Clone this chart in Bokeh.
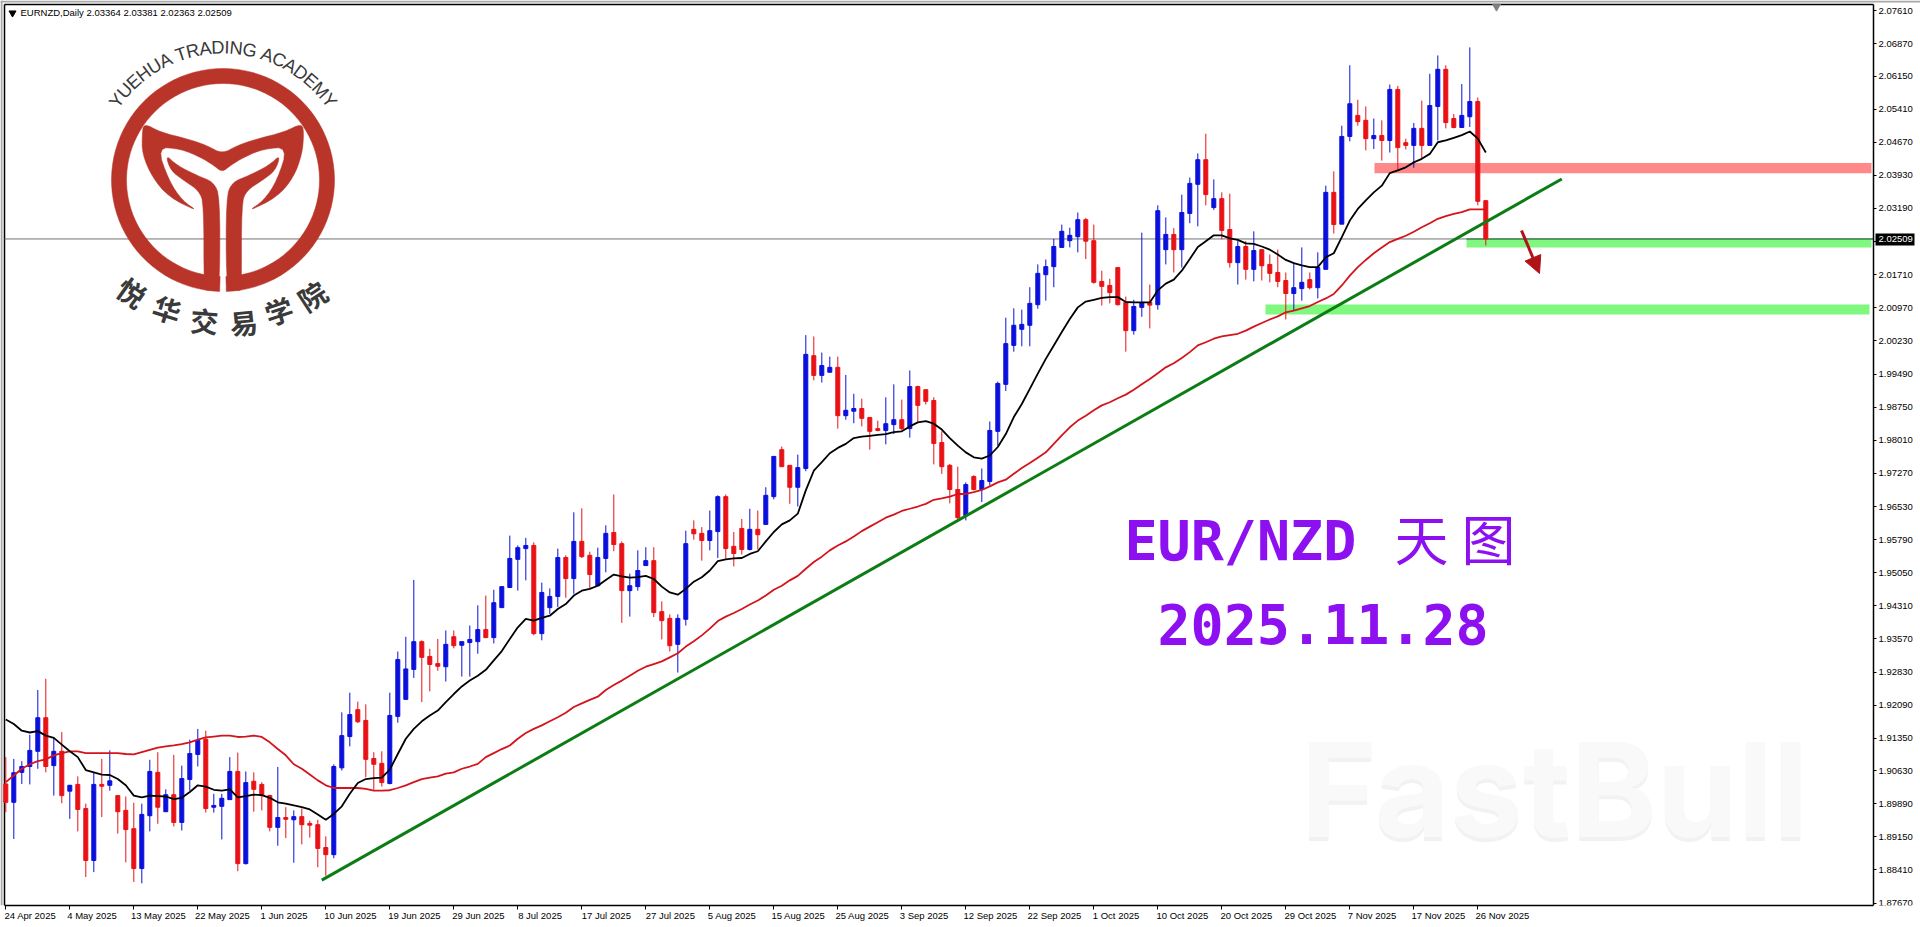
import math
import numpy as np
from bokeh.core.properties import value
from bokeh.embed import file_html
from bokeh.models import AllLabels, Arrow, ColumnDataSource, FixedTicker, NormalHead, Range1d
from bokeh.plotting import figure
from bokeh.resources import INLINE

open_ = [
    1.9033,1.8992,1.9059,1.9072,1.9106,1.9181,1.9074,1.9106,1.9017,1.9032,
    1.8978,1.8862,1.9032,1.9030,1.9007,1.8974,1.8933,1.8844,1.8962,1.9059,
    1.8971,1.9009,1.8947,1.9043,1.9099,1.9133,1.8981,1.8983,1.8998,1.9061,
    1.8855,1.9039,1.9032,1.9007,1.8936,1.8958,1.8953,1.8960,1.8945,1.8942,
    1.8891,1.8875,1.9069,1.9139,1.9199,1.9175,1.9090,1.9079,1.9034,1.9184,
    1.9222,1.9289,1.9351,1.9318,1.9302,1.9295,1.9362,1.9343,1.9349,1.9351,
    1.9378,1.9360,1.9427,1.9472,1.9535,1.9559,1.9566,1.9369,1.9427,1.9452,
    1.9539,1.9492,1.9575,1.9544,1.9476,1.9537,1.9595,1.9570,1.9465,1.9474,
    1.9521,1.9532,1.9418,1.9403,1.9345,1.9401,1.9602,1.9593,1.9577,1.9597,
    1.9675,1.9564,1.9604,1.9557,1.9602,1.9613,1.9675,1.9780,1.9745,1.9696,
    1.9738,1.9990,1.9946,1.9953,1.9964,1.9856,1.9866,1.9872,1.9852,1.9827,
    1.9823,1.9836,1.9847,1.9827,1.9921,1.9914,1.9890,1.9796,1.9745,1.9691,
    1.9633,1.9720,1.9691,1.9709,1.9821,1.9926,2.0013,2.0049,2.0058,2.0104,
    2.0171,2.0189,2.0232,2.0247,2.0256,2.0294,2.0247,2.0156,2.0147,2.0187,
    2.0109,2.0046,2.0098,2.0109,2.0104,2.0227,2.0261,2.0227,2.0308,2.0373,
    2.0428,2.0321,2.0341,2.0272,2.0198,2.0234,2.0183,2.0227,2.0194,2.0176,
    2.0158,2.0129,2.0140,2.0160,2.0142,2.0183,2.0355,2.0284,2.0480,2.0527,
    2.0516,2.0475,2.0482,2.0471,2.0585,2.0466,2.0460,2.0498,2.0460,2.0547,
    2.0630,2.0520,2.0500,2.0524,2.0558,2.03364,
]
high = [
    1.9093,1.9089,1.9084,1.9143,1.9243,1.9268,1.9138,1.9149,1.9031,1.9050,
    1.8989,1.9058,1.9089,1.9108,1.9007,1.9005,1.8991,1.8989,1.9087,1.9104,
    1.9021,1.9098,1.9074,1.9132,1.9156,1.9152,1.9011,1.9011,1.9093,1.9103,
    1.9061,1.9059,1.9037,1.9009,1.9071,1.8981,1.8974,1.8978,1.8951,1.8953,
    1.8916,1.9077,1.9193,1.9237,1.9217,1.9211,1.9104,1.9106,1.9237,1.9329,
    1.9362,1.9489,1.9354,1.9335,1.9357,1.9376,1.9376,1.9351,1.9387,1.9432,
    1.9454,1.9467,1.9474,1.9588,1.9566,1.9583,1.9573,1.9483,1.9470,1.9559,
    1.9544,1.9640,1.9649,1.9552,1.9561,1.9611,1.9680,1.9575,1.9503,1.9555,
    1.9562,1.9562,1.9441,1.9412,1.9412,1.9599,1.9622,1.9607,1.9644,1.9678,
    1.9680,1.9596,1.9625,1.9648,1.9644,1.9696,1.9765,1.9787,1.9745,1.9769,
    2.0036,2.0033,1.9997,1.9988,1.9988,1.9947,1.9905,1.9894,1.9852,1.9845,
    1.9897,1.9926,1.9892,1.9957,1.9923,1.9914,1.9897,1.9821,1.9748,1.9742,
    1.9707,1.9723,1.9738,1.9843,1.9932,2.0075,2.0096,2.0093,2.0143,2.0194,
    2.0205,2.0251,2.0283,2.0276,2.0310,2.0298,2.0283,2.0180,2.0162,2.0187,
    2.0122,2.0115,2.0265,2.0149,2.0326,2.0299,2.0275,2.0350,2.0388,2.0442,
    2.0486,2.0384,2.0355,2.0352,2.0247,2.0246,2.0268,2.0228,2.0216,2.0227,
    2.0176,2.0198,2.0232,2.0176,2.0221,2.0370,2.0402,2.0504,2.0639,2.0562,
    2.0547,2.0520,2.0516,2.0596,2.0593,2.0475,2.0510,2.0560,2.0620,2.0661,
    2.0639,2.0530,2.0597,2.0679,2.0567,2.03381,
]
low = [
    1.8970,1.8910,1.9033,1.9032,1.9067,1.9059,1.9007,1.8990,1.8955,1.8927,
    1.8825,1.8836,1.8959,1.9018,1.8922,1.8858,1.8814,1.8811,1.8927,1.8944,
    1.8971,1.8938,1.8929,1.9018,1.9072,1.8969,1.8969,1.8909,1.8998,1.8838,
    1.8853,1.8971,1.8974,1.8927,1.8895,1.8912,1.8857,1.8898,1.8913,1.8847,
    1.8828,1.8867,1.9063,1.9117,1.9169,1.9048,1.9020,1.9027,1.9032,1.9170,
    1.9222,1.9270,1.9216,1.9240,1.9286,1.9262,1.9336,1.9273,1.9273,1.9324,
    1.9359,1.9347,1.9427,1.9472,1.9465,1.9488,1.9365,1.9354,1.9413,1.9428,
    1.9449,1.9458,1.9538,1.9471,1.9476,1.9506,1.9553,1.9393,1.9407,1.9465,
    1.9521,1.9406,1.9356,1.9329,1.9282,1.9387,1.9579,1.9532,1.9555,1.9538,
    1.9536,1.9519,1.9546,1.9555,1.9557,1.9613,1.9669,1.9742,1.9659,1.9653,
    1.9732,1.9935,1.9930,1.9953,1.9827,1.9847,1.9839,1.9832,1.9780,1.9821,
    1.9792,1.9815,1.9823,1.9807,1.9841,1.9881,1.9747,1.9726,1.9660,1.9625,
    1.9622,1.9689,1.9663,1.9700,1.9789,1.9911,1.9999,2.0011,2.0011,2.0095,
    2.0113,2.0143,2.0232,2.0232,2.0221,2.0206,2.0151,2.0102,2.0107,2.0102,
    1.9999,2.0037,2.0077,2.0051,2.0093,2.0194,2.0176,2.0187,2.0286,2.0279,
    2.0326,2.0316,2.0250,2.0187,2.0149,2.0160,2.0156,2.0158,2.0154,2.0143,
    2.0071,2.0091,2.0113,2.0138,2.0118,2.0183,2.0263,2.0284,2.0469,2.0504,
    2.0449,2.0452,2.0426,2.0444,2.0404,2.0451,2.0410,2.0431,2.0460,2.0471,
    2.0498,2.0498,2.0500,2.0501,2.0326,2.02363,
]
close = [
    1.8992,1.9058,1.9072,1.9108,1.9181,1.9072,1.9106,1.9007,1.9030,1.8976,
    1.8862,1.9032,1.9028,1.9040,1.8971,1.8931,1.8844,1.8965,1.9061,1.8981,
    1.9009,1.8947,1.9045,1.9101,1.9130,1.8978,1.8985,1.9001,1.9061,1.8855,
    1.9036,1.9021,1.9007,1.8936,1.8958,1.8954,1.8960,1.8942,1.8941,1.8889,
    1.8875,1.9072,1.9141,1.9188,1.9172,1.9088,1.9077,1.9036,1.9186,1.9311,
    1.9290,1.9351,1.9316,1.9300,1.9296,1.9345,1.9342,1.9351,1.9356,1.9378,
    1.9360,1.9438,1.9474,1.9537,1.9561,1.9566,1.9369,1.9461,1.9452,1.9539,
    1.9492,1.9575,1.9541,1.9501,1.9539,1.9593,1.9568,1.9465,1.9476,1.9510,
    1.9532,1.9416,1.9398,1.9342,1.9403,1.9570,1.9592,1.9577,1.9599,1.9675,
    1.9559,1.9548,1.9557,1.9602,1.9590,1.9678,1.9765,1.9742,1.9696,1.9740,
    1.9993,1.9946,1.9968,1.9964,1.9856,1.9868,1.9872,1.9850,1.9821,1.9823,
    1.9838,1.9847,1.9827,1.9921,1.9879,1.9888,1.9794,1.9742,1.9691,1.9628,
    1.9702,1.9691,1.9711,1.9823,1.9928,2.0017,2.0058,2.0060,2.0107,2.0174,
    2.0189,2.0234,2.0268,2.0259,2.0294,2.0246,2.0154,2.0145,2.0131,2.0104,
    2.0046,2.0100,2.0109,2.0103,2.0314,2.0261,2.0227,2.0310,2.0375,2.0428,
    2.0350,2.0341,2.0270,2.0198,2.0234,2.0183,2.0225,2.0191,2.0174,2.0156,
    2.0129,2.0142,2.0154,2.0142,2.0187,2.0355,2.0283,2.0480,2.0553,2.0513,
    2.0475,2.0482,2.0471,2.0585,2.0455,2.0460,2.0498,2.0460,2.0549,2.0630,
    2.0511,2.0500,2.0527,2.0558,2.0335,2.02509,
]
ma_fast = [
    1.9177,1.9167,1.9152,1.9148,1.9151,1.9141,1.9136,1.9121,1.9106,1.9093,
    1.9064,1.9059,1.9054,1.9053,1.9044,1.9030,1.9007,1.9003,1.9007,1.9006,
    1.9005,1.8999,1.9002,1.9015,1.9030,1.9027,1.9020,1.9018,1.9021,1.9003,
    1.9006,1.9009,1.9008,1.9002,1.8992,1.8989,1.8985,1.8981,1.8976,1.8965,
    1.8953,1.8966,1.8983,1.9011,1.9035,1.9044,1.9046,1.9047,1.9065,1.9100,
    1.9134,1.9156,1.9173,1.9186,1.9197,1.9216,1.9234,1.9251,1.9264,1.9275,
    1.9288,1.9309,1.9330,1.9357,1.9383,1.9402,1.9398,1.9404,1.9409,1.9424,
    1.9435,1.9454,1.9465,1.9469,1.9476,1.9489,1.9501,1.9497,1.9494,1.9495,
    1.9498,1.9491,1.9474,1.9461,1.9456,1.9469,1.9485,1.9495,1.9510,1.9531,
    1.9535,1.9537,1.9538,1.9547,1.9553,1.9575,1.9596,1.9613,1.9622,1.9637,
    1.9689,1.9733,1.9752,1.9772,1.9784,1.9793,1.9806,1.9809,1.9811,1.9813,
    1.9815,1.9819,1.9821,1.9832,1.9841,1.9844,1.9838,1.9825,1.9806,1.9789,
    1.9774,1.9763,1.9760,1.9767,1.9786,1.9815,1.9853,1.9882,1.9916,1.9950,
    1.9983,2.0013,2.0043,2.0072,2.0098,2.0111,2.0115,2.0119,2.0121,2.0121,
    2.0110,2.0109,2.0109,2.0109,2.0136,2.0151,2.0160,2.0180,2.0206,2.0233,
    2.0246,2.0259,2.0259,2.0252,2.0249,2.0241,2.0240,2.0234,2.0227,2.0216,
    2.0204,2.0197,2.0192,2.0188,2.0188,2.0210,2.0219,2.0255,2.0292,2.0318,
    2.0337,2.0355,2.0370,2.0398,2.0404,2.0411,2.0422,2.0430,2.0441,2.0467,
    2.0471,2.0477,2.0483,2.0491,2.0475,2.0444,
]
ma_slow = [
    1.9037,1.9052,1.9067,1.9077,1.9084,1.9088,1.9097,1.9102,1.9106,1.9106,
    1.9102,1.9102,1.9102,1.9102,1.9102,1.9100,1.9099,1.9104,1.9109,1.9114,
    1.9117,1.9119,1.9122,1.9126,1.9132,1.9137,1.9139,1.9141,1.9141,1.9138,
    1.9139,1.9141,1.9138,1.9126,1.9111,1.9097,1.9077,1.9067,1.9054,1.9041,
    1.9030,1.9024,1.9024,1.9024,1.9024,1.9022,1.9018,1.9018,1.9019,1.9024,
    1.9030,1.9037,1.9044,1.9047,1.9050,1.9056,1.9059,1.9067,1.9072,1.9078,
    1.9093,1.9102,1.9111,1.9119,1.9134,1.9147,1.9156,1.9164,1.9173,1.9182,
    1.9192,1.9205,1.9213,1.9221,1.9228,1.9243,1.9254,1.9264,1.9275,1.9286,
    1.9295,1.9301,1.9307,1.9316,1.9325,1.9340,1.9352,1.9365,1.9380,1.9397,
    1.9407,1.9415,1.9424,1.9434,1.9443,1.9454,1.9467,1.9476,1.9488,1.9498,
    1.9514,1.9529,1.9541,1.9555,1.9566,1.9575,1.9586,1.9598,1.9608,1.9618,
    1.9628,1.9635,1.9643,1.9648,1.9653,1.9659,1.9668,1.9671,1.9675,1.9681,
    1.9681,1.9685,1.9690,1.9698,1.9707,1.9713,1.9726,1.9739,1.9750,1.9762,
    1.9774,1.9793,1.9812,1.9830,1.9845,1.9856,1.9868,1.9879,1.9886,1.9895,
    1.9903,1.9914,1.9926,1.9938,1.9951,1.9964,1.9973,1.9985,1.9998,2.0013,
    2.0020,2.0028,2.0033,2.0036,2.0039,2.0046,2.0055,2.0063,2.0071,2.0078,
    2.0087,2.0091,2.0096,2.0101,2.0110,2.0118,2.0128,2.0147,2.0169,2.0188,
    2.0204,2.0219,2.0232,2.0244,2.0251,2.0258,2.0267,2.0277,2.0286,2.0296,
    2.0302,2.0307,2.0311,2.0317,2.0317,2.0317,
]

date_labels = ["24 Apr 2025", "4 May 2025", "13 May 2025", "22 May 2025", "1 Jun 2025", "10 Jun 2025",
               "19 Jun 2025", "29 Jun 2025", "8 Jul 2025", "17 Jul 2025", "27 Jul 2025", "5 Aug 2025",
               "15 Aug 2025", "25 Aug 2025", "3 Sep 2025", "12 Sep 2025", "22 Sep 2025", "1 Oct 2025",
               "10 Oct 2025", "20 Oct 2025", "29 Oct 2025", "7 Nov 2025", "17 Nov 2025", "26 Nov 2025"]
date_ticks = list(range(0, 192, 8))
price_ticks = [2.07610, 2.06870, 2.06150, 2.05410, 2.04670, 2.03930, 2.03190, 2.02450, 2.01710, 2.00970,
               2.00230, 1.99490, 1.98750, 1.98010, 1.97270, 1.96530, 1.95790, 1.95050, 1.94310, 1.93570,
               1.92830, 1.92090, 1.91350, 1.90630, 1.89890, 1.89150, 1.88410, 1.87670]
last_price = 2.02509
resistance_zone = (2.04209, 2.03978)
support_zone_1 = (2.02509, 2.02320)
support_zone_2 = (2.01043, 2.00820)
trend_x = [39.5, 194.5]
trend_y = [1.8818, 2.0385]
header = "EURNZD,Daily  2.03364 2.03381 2.02363 2.02509"

# picture pixel <-> data, used for the decorations that sit on the picture rather than on the prices
BAR_PX = 8.0
PRICE_PX = 4475.0


def fx(px):
    return (px - 5.3) / BAR_PX


def fy(py):
    return 2.0687 - (py - 43.3) / PRICE_PX


# the frame fills the canvas so that the price tag can be drawn; the chart box itself ends at these
BOX_LEFT, BOX_RIGHT = fx(4), fx(1873)
BOX_TOP, BOX_BOTTOM = fy(4), fy(905)

p = figure(width=1920, height=927, output_backend="svg", toolbar_location=None,
           x_range=Range1d(fx(0), fx(1920)), y_range=Range1d(BOX_BOTTOM, fy(0)),
           y_axis_location="right", min_border_left=0, min_border_top=0,
           min_border_right=0, min_border_bottom=22,
           background_fill_color="white", border_fill_color="white")
p.grid.visible = False
p.outline_line_color = None

label_font = "Liberation Sans"

# date axis: MT4 starts each label at its tick, so the label sits on a shifted major tick
shifted = [round(t + (len(s) * 4.65 / 2 - 1) / BAR_PX, 3) for t, s in zip(date_ticks, date_labels)]
xax = p.xaxis[0]
xax.bounds = (BOX_LEFT, BOX_RIGHT)
xax.ticker = FixedTicker(ticks=shifted, minor_ticks=date_ticks)
xax.major_label_overrides = dict(zip(shifted, date_labels))
xax.major_label_policy = AllLabels()
xax.major_tick_out = 0
xax.major_tick_in = 0
xax.minor_tick_out = 4
xax.minor_tick_in = 0
xax.minor_tick_line_color = "black"
xax.major_label_standoff = 0
xax.major_label_text_font = label_font
xax.major_label_text_font_size = "9.5px"
xax.major_label_text_color = "black"
xax.axis_line_color = "black"
xax.axis_line_width = 1.5

yax = p.yaxis[0]
yax.fixed_location = BOX_RIGHT
yax.bounds = (BOX_BOTTOM, BOX_TOP)
yax.ticker = FixedTicker(ticks=price_ticks)
yax.major_label_overrides = {t: f"{t:.5f}" for t in price_ticks}
yax.major_label_policy = AllLabels()
yax.major_tick_out = 3
yax.major_tick_in = 0
yax.minor_tick_out = 0
yax.minor_tick_in = 0
yax.major_label_standoff = 2
yax.major_label_text_font = label_font
yax.major_label_text_font_size = "9.5px"
yax.major_label_text_color = "black"
yax.axis_line_color = "black"
yax.axis_line_width = 1.5

# window edge and the rest of the chart box
p.quad(left=[fx(0), fx(0)], right=[fx(2), fx(1920)], top=[fy(0), fy(0)], bottom=[BOX_BOTTOM, fy(2)],
       fill_color="#a8a8a8", line_color=None)
p.segment(x0=[BOX_LEFT, BOX_LEFT], x1=[BOX_RIGHT, BOX_LEFT], y0=[BOX_TOP, BOX_TOP], y1=[BOX_TOP, BOX_BOTTOM],
          line_color="black", line_width=1.5)

# zones and current price line
p.quad(left=[fx(1374)], right=[fx(1871)], top=[resistance_zone[0]], bottom=[resistance_zone[1]],
       fill_color="#ff8888", line_color=None)
p.quad(left=[fx(1466)], right=[fx(1871)], top=[support_zone_1[0]], bottom=[support_zone_1[1]],
       fill_color="#80f880", line_color=None)
p.quad(left=[fx(1265)], right=[fx(1869)], top=[support_zone_2[0]], bottom=[support_zone_2[1]],
       fill_color="#80f880", line_color=None)
p.segment(x0=[BOX_LEFT], x1=[BOX_RIGHT], y0=[last_price], y1=[last_price], line_color="#707070", line_width=1)
p.segment(x0=[fx(1466)], x1=[BOX_RIGHT], y0=[last_price], y1=[last_price], line_color="#1c7c30", line_width=1)

# watermark
for dy, col in ((4, "#f2f2f2"), (0, "#f9f9f9")):
    p.text(x=[fx(1300)], y=[fy(789 + dy)], text=["FastBull"], text_font=value("Inter"), text_font_style="bold",
           text_font_size="130px", text_color=col, text_baseline="middle", text_align="left")

# candles
x = np.arange(len(close))
o = np.array(open_)
c = np.array(close)
up = c >= o
colors = np.where(up, "#0a10dc", "#e81216")
src = ColumnDataSource(dict(x=x, high=high, low=low, top=np.maximum(o, c), bottom=np.minimum(o, c), color=colors))
p.segment(x0="x", x1="x", y0="low", y1="high", line_color="color", line_width=1, source=src)
p.vbar(x="x", width=0.5, top="top", bottom="bottom", fill_color="color", line_color="color", line_width=1, source=src)

# moving averages, trend line, arrow
p.line(x, ma_slow, line_color="#d4141c", line_width=1.8)
p.line(x, ma_fast, line_color="black", line_width=1.8)
p.line(trend_x, trend_y, line_color="#0c7c14", line_width=3)
p.add_layout(Arrow(end=NormalHead(size=17, fill_color="#b01418", line_color="#b01418"),
                   x_start=fx(1521), y_start=fy(230), x_end=fx(1539), y_end=fy(273),
                   line_color="#b01418", line_width=3))

# purple caption
p.text(x=[fx(1124)], y=[fy(540)], text=["EUR/NZD"], text_font=value("DejaVu Sans Mono"), text_font_style="bold",
       text_font_size="55px", text_color="#8c10f0", text_baseline="middle", text_align="left")
p.text(x=[fx(1394), fx(1461)], y=[fy(537), fy(537)], text=["天", "图"], text_font=value("Noto Sans CJK SC"),
       text_font_size="54px", text_color="#8c10f0", text_baseline="middle", text_align="left")
p.text(x=[fx(1157)], y=[fy(623)], text=["2025.11.28"], text_font=value("DejaVu Sans Mono"), text_font_style="bold",
       text_font_size="55px", text_color="#8c10f0", text_baseline="middle", text_align="left")

# header
p.scatter(x=[fx(12)], y=[fy(12.5)], marker="inverted_triangle", size=7, fill_color="black", line_color="black")
p.text(x=[fx(20)], y=[fy(12)], text=[header], text_font=value(label_font), text_font_size="9.5px",
       text_color="black", text_baseline="middle", text_align="left")
# chart shift marker
p.scatter(x=[fx(1496)], y=[fy(6)], marker="inverted_triangle", size=8, fill_color="#808080", line_color="#808080")

# price tag over the axis labels
p.quad(left=[fx(1875)], right=[fx(1914)], top=[fy(233)], bottom=[fy(245)], fill_color="black", line_color=None,
       level="overlay")
p.text(x=[fx(1878)], y=[last_price], text=[f"{last_price:.5f}"], text_font=value(label_font),
       text_font_size="9.5px", text_color="white", text_baseline="middle", text_align="left", level="overlay")

# logo
LOGO_RED = "#b9352a"
LOGO_CX, LOGO_CY = 222.5, 179.5


def zx(v):
    return fx(v / 3)


def zy(v):
    return fy(v / 3)


def smooth(xs, ys, rounds=2):
    for _ in range(rounds):
        nx, ny = [], []
        for i in range(len(xs)):
            j = (i + 1) % len(xs)
            nx += [0.75 * xs[i] + 0.25 * xs[j], 0.25 * xs[i] + 0.75 * xs[j]]
            ny += [0.75 * ys[i] + 0.25 * ys[j], 0.25 * ys[i] + 0.75 * ys[j]]
        xs, ys = nx, ny
    return xs, ys


p.annular_wedge(x=[fx(LOGO_CX)], y=[fy(LOGO_CY)], inner_radius=96.5, outer_radius=111.5,
                inner_radius_units="screen", outer_radius_units="screen",
                start_angle=-math.pi / 2 + 0.03, end_angle=-math.pi / 2 - 0.03,
                fill_color=LOGO_RED, line_color=LOGO_RED, line_width=0.5)

wing_x = [430, 480, 560, 620, 665, 710, 770, 850, 905, 910, 905, 880, 830, 740, 790, 830, 862, 790, 730, 690, 665,
          640, 600, 540, 470, 505, 545, 595, 505, 455, 425, 425]
wing_y = [368, 395, 415, 435, 460, 435, 415, 395, 368, 400, 460, 530, 590, 634, 600, 540, 440, 445, 470, 495, 515,
          495, 470, 445, 440, 540, 600, 634, 590, 530, 460, 400]
stem_l_x = [495, 530, 590, 640, 658, 658, 650, 620, 610, 610, 595, 550, 510]
stem_l_y = [462, 495, 525, 545, 590, 830, 860, 872, 860, 610, 570, 540, 510]
stem_r_x = [840, 805, 745, 695, 677, 677, 690, 720, 723, 723, 738, 785, 825]
stem_r_y = [462, 495, 525, 545, 590, 840, 865, 872, 860, 610, 570, 540, 510]
for xs, ys in ((wing_x, wing_y), (stem_l_x, stem_l_y), (stem_r_x, stem_r_y)):
    sx, sy = smooth(xs, ys)
    p.patch([zx(v) for v in sx], [zy(v) for v in sy], fill_color=LOGO_RED, line_color=LOGO_RED, line_width=0.5)

arc_text = "YUEHUA TRADING ACADEMY"
arc_w = {"Y": .667, "U": .722, "E": .667, "H": .722, "A": .667, " ": .278, "T": .611, "R": .722, "D": .722,
         "I": .278, "N": .722, "G": .778, "C": .722, "M": .833}
arc_size = 18.3
arc_r = 133.0
total = sum(arc_w[ch] for ch in arc_text) * arc_size
pos = -total / 2
ax, ay, aa, at = [], [], [], []
for ch in arc_text:
    w = arc_w[ch] * arc_size
    th = (pos + w / 2) / arc_r
    ax.append(fx(LOGO_CX + arc_r * math.sin(th)))
    ay.append(fy(LOGO_CY - arc_r * math.cos(th)))
    aa.append(-th)
    at.append(ch)
    pos += w
p.text(x=ax, y=ay, text=at, angle=aa, text_font=value("Liberation Sans"), text_font_size=f"{arc_size}px",
       text_color="#3a3a3a", text_align="center", text_baseline="middle")

cjk_text = list("悦华交易学院")
cjk_x = [395, 500, 612, 730, 835, 935]
cjk_y = [875, 925, 960, 965, 930, 885]
cjk_a = [-0.62, -0.30, -0.08, 0.10, 0.32, 0.58]
p.text(x=[zx(v) for v in cjk_x], y=[zy(v) for v in cjk_y], text=cjk_text, angle=cjk_a,
       text_font=value("Noto Sans CJK SC"), text_font_style="bold", text_font_size="28px",
       text_color="#3a3a3a", text_align="center", text_baseline="middle")

open("out.html", "w").write(file_html(p, INLINE))
